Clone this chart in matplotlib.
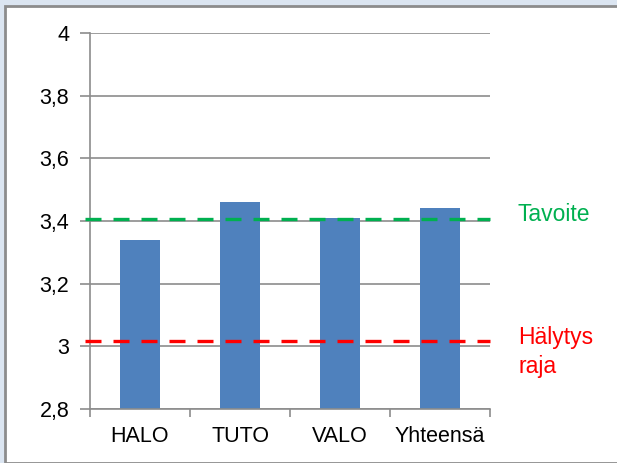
import matplotlib
matplotlib.use("Agg")
import matplotlib.pyplot as plt
from matplotlib.patches import Rectangle
import numpy as np

categories = ["HALO", "TUTO", "VALO", "Yhteensä"]
values = [3.34, 3.46, 3.41, 3.44]
target = 3.405
alarm = 3.018
yticks = [2.8, 3.0, 3.2, 3.4, 3.6, 3.8, 4.0]
ytick_labels = ["2,8", "3", "3,2", "3,4", "3,6", "3,8", "4"]

plt.rcParams['font.family'] = ['Liberation Sans', 'DejaVu Sans']

fig = plt.figure(figsize=(6.17, 4.63), dpi=100)
fig.patch.set_facecolor('#dbe5f1')
# white chart area with gray border
bg = Rectangle((5/617, 0), 1.0, 1 - 5.5/463, transform=fig.transFigure,
               facecolor='white', edgecolor='#8c8c8c', linewidth=2, zorder=-10)
fig.add_artist(bg)

ax = fig.add_axes([90/617, 1 - 409/463, 400/617, 376/463])
ax.set_zorder(5)
ax.set_facecolor('white')
x = np.arange(len(categories))
ax.bar(x, values, width=0.4, color='#4f81bd', zorder=2)
ax.set_xlim(-0.5, len(categories) - 0.5)
ax.set_ylim(2.8, 4.0)
ax.set_yticks(yticks)
ax.set_yticklabels(ytick_labels)
ax.yaxis.grid(True, color='#8c8c8c', linewidth=1.2)
ax.set_axisbelow(True)
ax.set_xticks(x)
ax.set_xticklabels(categories)
ax.set_xticks(np.arange(-0.5, len(categories)), minor=True)
ax.tick_params(axis='x', which='major', length=0, pad=12, labelsize=15.5)
ax.tick_params(axis='x', which='minor', length=6, color='#8c8c8c', width=1.2)
ax.tick_params(axis='y', length=7, color='#8c8c8c', width=1.2, pad=8, labelsize=15.5)
for s in ['top', 'right']:
    ax.spines[s].set_visible(False)
for s in ['left', 'bottom']:
    ax.spines[s].set_color('#8c8c8c')
    ax.spines[s].set_linewidth(1.2)

xl = [-0.55, len(categories) - 0.5]
ax.plot(xl, [target, target], color='#00b050', linestyle=(0, (4.8, 3.6)), linewidth=2.4,
        zorder=3, clip_on=False, solid_capstyle='butt', dash_capstyle='butt')
ax.plot(xl, [alarm, alarm], color='#ff0000', linestyle=(0, (4.8, 3.6)), linewidth=2.4,
        zorder=3, clip_on=False, solid_capstyle='butt', dash_capstyle='butt')

fig.text(518/617, 1 - 214/463, "Tavoite", color='#00b050', fontsize=16.5, va='center', ha='left')
fig.text(518/617, 1 - 352/463, "Hälytys\nraja", color='#ff0000', fontsize=16.5, va='center', ha='left',
         linespacing=1.3)

fig.savefig("out.png", dpi=100, facecolor=fig.get_facecolor())
